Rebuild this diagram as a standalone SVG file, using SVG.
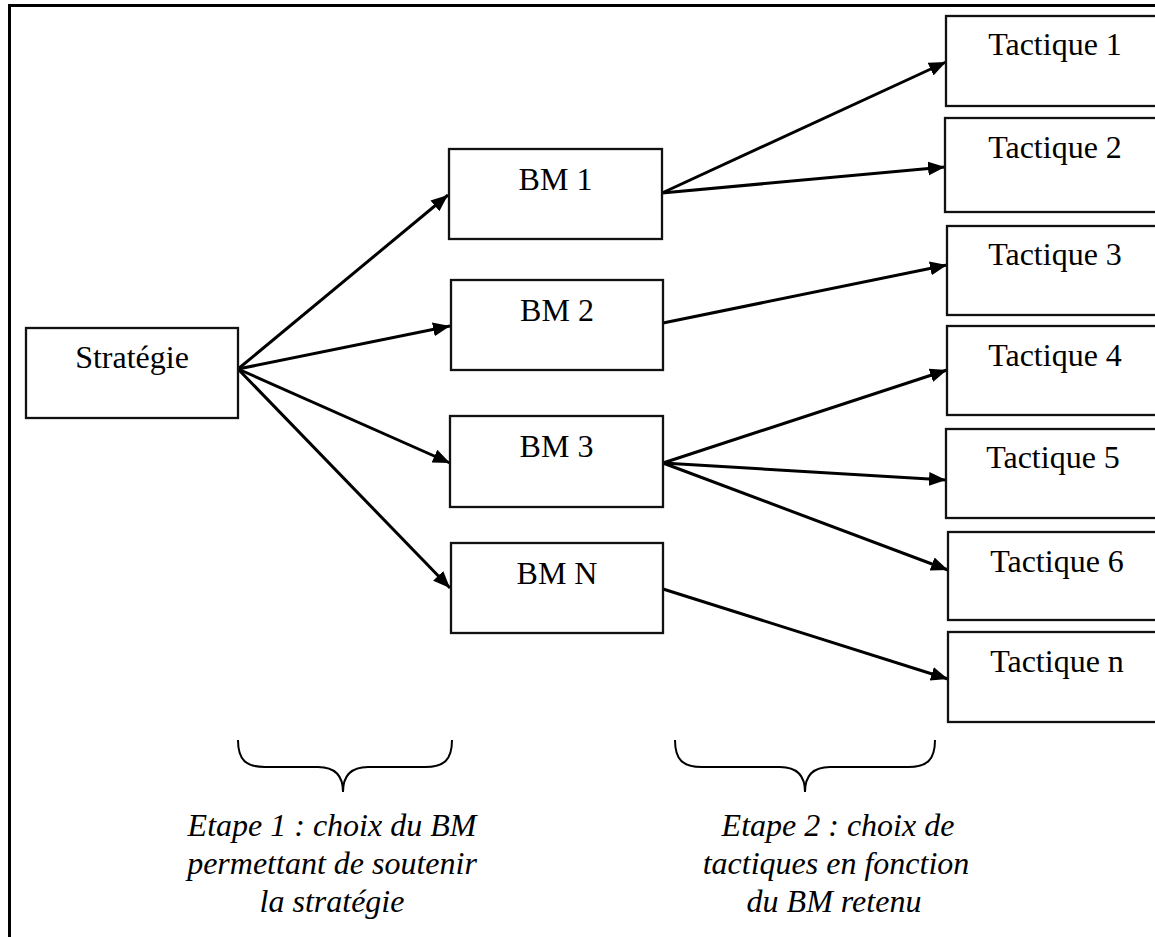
<svg xmlns="http://www.w3.org/2000/svg" width="1155" height="937" viewBox="0 0 1155 937">
  <style>
    .box { fill: #ffffff; stroke: #111111; stroke-width: 2.3; }
    .lbl { font-family: "Liberation Serif", "Times New Roman", serif; font-size: 32px; fill: #000000; text-anchor: middle; }
    .note { font-family: "Liberation Serif", "Times New Roman", serif; font-size: 32px; font-style: italic; fill: #000000; text-anchor: middle; }
    .edge { stroke: #000000; stroke-width: 3; fill: none; marker-end: url(#head); }
    .brace { stroke: #000000; stroke-width: 2; fill: none; }
  </style>
  <defs>
    <marker id="head" markerUnits="userSpaceOnUse" markerWidth="18" markerHeight="15" refX="17" refY="7" orient="auto">
      <path d="M0,0 L17,7 L0,14 z" fill="#000000"/>
    </marker>
  </defs>

  <rect x="0" y="0" width="1155" height="937" fill="#ffffff"/>
  <!-- page frame -->
  <path d="M9.5,937 V5.5 H1155" fill="none" stroke="#000000" stroke-width="3"/>

  <!-- connectors -->
  <g id="connectors">
    <line class="edge" x1="238" y1="369" x2="448" y2="195"/>
    <line class="edge" x1="238" y1="369" x2="450" y2="326"/>
    <line class="edge" x1="238" y1="369" x2="450" y2="463"/>
    <line class="edge" x1="238" y1="369" x2="450" y2="588"/>
    <line class="edge" x1="662" y1="193" x2="946" y2="62"/>
    <line class="edge" x1="662" y1="193" x2="945" y2="167"/>
    <line class="edge" x1="663" y1="323" x2="947" y2="265"/>
    <line class="edge" x1="663" y1="463" x2="947" y2="370"/>
    <line class="edge" x1="663" y1="463" x2="946" y2="480"/>
    <line class="edge" x1="663" y1="463" x2="948" y2="570"/>
    <line class="edge" x1="663" y1="589" x2="948" y2="679"/>
  </g>

  <!-- strategy -->
  <g id="strategie">
    <rect class="box" x="26" y="328" width="212" height="90"/>
    <text class="lbl" x="132" y="368">Stratégie</text>
  </g>

  <!-- business models -->
  <g id="bm1">
    <rect class="box" x="449" y="149" width="213" height="90"/>
    <text class="lbl" x="555.5" y="190">BM 1</text>
  </g>
  <g id="bm2">
    <rect class="box" x="451" y="280" width="212" height="90"/>
    <text class="lbl" x="557" y="321">BM 2</text>
  </g>
  <g id="bm3">
    <rect class="box" x="450" y="416" width="213" height="91"/>
    <text class="lbl" x="556.5" y="457">BM 3</text>
  </g>
  <g id="bmn">
    <rect class="box" x="451" y="543" width="212" height="90"/>
    <text class="lbl" x="557" y="584">BM N</text>
  </g>

  <!-- tactics -->
  <g id="tactique1">
    <rect class="box" x="946" y="16" width="220" height="90"/>
    <text class="lbl" x="1055" y="55">Tactique 1</text>
  </g>
  <g id="tactique2">
    <rect class="box" x="945" y="118" width="220" height="94"/>
    <text class="lbl" x="1055" y="158">Tactique 2</text>
  </g>
  <g id="tactique3">
    <rect class="box" x="947" y="226" width="220" height="89"/>
    <text class="lbl" x="1055" y="265">Tactique 3</text>
  </g>
  <g id="tactique4">
    <rect class="box" x="947" y="326" width="220" height="89"/>
    <text class="lbl" x="1055" y="366">Tactique 4</text>
  </g>
  <g id="tactique5">
    <rect class="box" x="946" y="429" width="220" height="89"/>
    <text class="lbl" x="1053" y="468">Tactique 5</text>
  </g>
  <g id="tactique6">
    <rect class="box" x="948" y="532" width="220" height="88"/>
    <text class="lbl" x="1057" y="572">Tactique 6</text>
  </g>
  <g id="tactiquen">
    <rect class="box" x="948" y="632" width="220" height="90"/>
    <text class="lbl" x="1057" y="672">Tactique n</text>
  </g>

  <!-- step braces and captions -->
  <g id="etape1">
    <path class="brace" d="M238,740 C238,760 246,767 265,767 L318,767 C335,767 343,775 343,792 C343,775 351,767 368,767 L425,767 C444,767 452,760 452,740"/>
    <text class="note" x="332" y="836">Etape 1 : choix du BM</text>
    <text class="note" x="332" y="874">permettant de soutenir</text>
    <text class="note" x="332" y="912">la stratégie</text>
  </g>
  <g id="etape2">
    <path class="brace" d="M675,740 C675,760 683,767 702,767 L780,767 C797,767 805,775 805,792 C805,775 813,767 830,767 L908,767 C927,767 935,760 935,740"/>
    <text class="note" x="838" y="836">Etape 2 : choix de</text>
    <text class="note" x="836" y="874">tactiques en fonction</text>
    <text class="note" x="834" y="912">du BM retenu</text>
  </g>
</svg>
